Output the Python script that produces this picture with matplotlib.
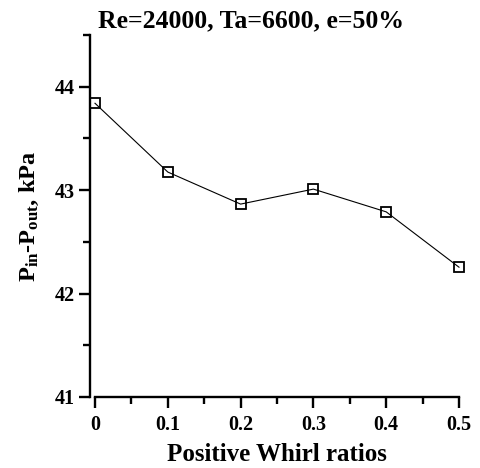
import numpy as np
import matplotlib.pyplot as plt
from matplotlib.ticker import MultipleLocator

# data
whirl = [0.0, 0.1, 0.2, 0.3, 0.4, 0.5]
dp = [43.84, 43.175, 42.865, 43.01, 42.79, 42.255]
xtick_labels = ['0', '0.1', '0.2', '0.3', '0.4', '0.5']

plt.rcParams['font.family'] = ['Liberation Serif', 'DejaVu Serif']
plt.rcParams['font.weight'] = 'bold'
plt.rcParams['mathtext.fontset'] = 'custom'
plt.rcParams['mathtext.rm'] = 'Liberation Serif:bold'
plt.rcParams['mathtext.it'] = 'Liberation Serif:bold'
plt.rcParams['mathtext.bf'] = 'Liberation Serif:bold'

fig = plt.figure(figsize=(4.8, 4.68), dpi=100)
# plot area: x=0 at 95px, x=0.5 at 459px; y=41 at 396px, top at 35px
ax = fig.add_axes([95 / 480, 1 - 397 / 468, 364 / 480, 362 / 468])

ax.plot(whirl, dp, color='black', linewidth=0.8, marker='s', markersize=7.5,
        markerfacecolor='none', markeredgecolor='black', markeredgewidth=1.3,
        clip_on=False)

ax.set_xlim(0, 0.5)
ax.set_ylim(41, 44.5)
ax.xaxis.set_minor_locator(MultipleLocator(0.05))
ax.yaxis.set_major_locator(MultipleLocator(1))
ax.yaxis.set_minor_locator(MultipleLocator(0.5))
ax.set_xticks(whirl)
ax.set_xticklabels(xtick_labels)

for s in ['top', 'right']:
    ax.spines[s].set_visible(False)
for s in ['left', 'bottom']:
    ax.spines[s].set_linewidth(1.7)
ax.spines['left'].set_position(('outward', 3.6))

ax.tick_params(which='major', direction='out', length=8, width=1.7,
               labelsize=14.5, pad=3)
ax.tick_params(which='minor', direction='out', length=5, width=1.7)
ax.tick_params(axis='x', which='major', pad=5)

ax.set_xlabel('Positive Whirl ratios', fontsize=18, fontweight='bold', labelpad=6)
ax.set_ylabel(r'P$_{\mathrm{in}}$-P$_{\mathrm{out}}$, kPa', fontsize=17.5,
              fontweight='bold', labelpad=10)
fig.text(251 / 480, 1 - 27 / 468, 'Re=24000, Ta=6600, e=50%', fontsize=18.5,
         fontweight='bold', ha='center', va='baseline')

fig.savefig('out.png', dpi=100)
